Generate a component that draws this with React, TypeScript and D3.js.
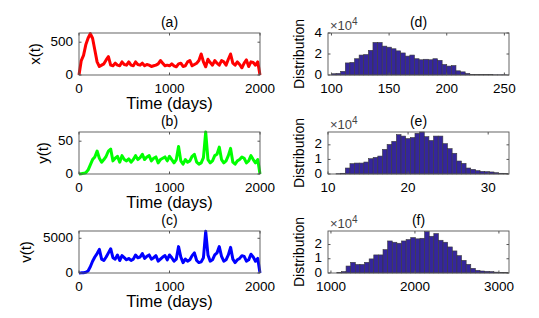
import * as d3 from "d3";

// sampled every 25 days, 0..2000
const days = d3.range(0, 2001, 25);

const xVals = [
  0, 220, 300, 460, 560, 630, 560, 380, 200, 130,
  150, 170, 230, 280, 150, 140, 180, 150, 140, 200,
  160, 150, 200, 150, 140, 200, 160, 150, 180, 140,
  160, 150, 130, 140, 150, 170, 220, 180, 140, 150,
  140, 170, 140, 125, 170, 180, 130, 140, 200, 220,
  140, 160, 180, 220, 320, 200, 125, 240, 190, 150,
  220, 180, 150, 220, 200, 150, 240, 320, 180, 150,
  200, 160, 110, 180, 230, 130, 200, 190, 150, 200,
  0,
];

const yVals = [
  0, 0.5, 1, 2, 6, 14, 22, 26, 35, 24,
  18, 22, 27, 35, 38, 20, 24, 27, 18, 28,
  22, 20, 23, 18, 22, 28, 22, 25, 30, 22,
  26, 28, 20, 24, 26, 17, 22, 24, 26, 20,
  27, 22, 17, 22, 42, 20, 15, 22, 18, 20,
  27, 30, 18, 15, 17, 25, 64, 22, 17, 20,
  28, 30, 41, 22, 17, 20, 28, 39, 18, 15,
  20, 22, 26, 24, 17, 20, 28, 22, 17, 22,
  0,
];

const vVals = [
  0, 20, 50, 100, 300, 900, 1700, 2300, 2800, 3400,
  2000, 1800, 2300, 2900, 3500, 2200, 2000, 2600, 1800, 2500,
  2200, 1900, 2100, 1800, 2000, 2600, 2200, 2300, 2800, 2100,
  2400, 2600, 2000, 2200, 2500, 1700, 2000, 2300, 2500, 1900,
  2600, 2200, 1700, 2000, 3800, 2300, 1500, 2000, 1700, 1900,
  2500, 2900, 1800, 1500, 1600, 2200, 6000, 2600, 1700, 1900,
  2600, 2900, 3800, 2400, 1700, 1900, 2600, 3700, 2000, 1500,
  1900, 2100, 2500, 2400, 1700, 1900, 2700, 2300, 1700, 2100,
  0,
];

// histogram counts, in units of 10^4
const histX = [
  0.12, 0.15, 0.35, 1.15, 1.2, 1.55, 1.9, 1.95, 2.35, 3.1,
  3.1, 2.75, 2.65, 2.5, 2.3, 2.1, 1.8, 1.9, 1.55, 1.45,
  1.5, 1.45, 1.55, 1.4, 1.0, 0.85, 0.9, 0.4, 0.3, 0.15,
  0.05, 0.03, 0.03, 0.03, 0.03, 0.02, 0.02, 0.02,
];
const histY = [
  0.02, 0.05, 0.41, 0.71, 0.75, 0.75, 0.82, 1.05, 1.14, 1.23,
  1.69, 2.03, 2.24, 2.7, 2.6, 2.43, 2.5, 2.79, 2.88, 2.56,
  2.3, 2.6, 2.6, 2.08, 1.74, 1.42, 0.89, 0.73, 0.41, 0.32,
  0.23, 0.18, 0.16, 0.14, 0.09, 0.05, 0.03,
];
const histV = [
  0.03, 0.1, 0.49, 0.75, 0.6, 0.6, 0.75, 0.99, 1.27, 1.27,
  1.64, 2.25, 2.16, 2.09, 2.25, 2.35, 2.49, 2.4, 2.44, 2.91,
  2.58, 2.77, 2.3, 2.16, 1.83, 1.55, 1.22, 0.89, 0.61, 0.33,
  0.19, 0.14, 0.12, 0.1, 0.06, 0.04, 0.03,
];

const timeTicks = [0, 1000, 2000];
const FONT = "Liberation Sans, Arial, Helvetica, sans-serif";
const AX = "#555";

const leftX = [79, 260];
const rightX = [328, 509];
const rows = [[33, 75], [132, 174], [231, 273]];

const Box = ({ x0, x1, y0, y1 }: any) => (
  <rect x={x0} y={y0} width={x1 - x0} height={y1 - y0} fill="none" stroke={AX} strokeWidth={0.9} />
);

const Ticks = ({ x, y, xt, yt }: any) => {
  const [x0, x1] = x.range();
  const [y1, y0] = y.range();
  return (
    <g fontFamily={FONT} fontSize={13.5} fill="#000">
      {xt.map((t: number) => (
        <g key={"x" + t}>
          <line x1={x(t)} x2={x(t)} y1={y1} y2={y1 - 2.5} stroke={AX} />
          <line x1={x(t)} x2={x(t)} y1={y0} y2={y0 + 2.5} stroke={AX} />
          <text x={x(t)} y={y1 + 17.5} textAnchor="middle">{t}</text>
        </g>
      ))}
      {yt.map((t: number) => (
        <g key={"y" + t}>
          <line x1={x0} x2={x0 + 2.5} y1={y(t)} y2={y(t)} stroke={AX} />
          <line x1={x1} x2={x1 - 2.5} y1={y(t)} y2={y(t)} stroke={AX} />
          <text x={x0 - 6} y={y(t) + 3.5} textAnchor="end">{t}</text>
        </g>
      ))}
    </g>
  );
};

const TimePanel = ({ row, values, color, yMax, yt, label, labelX, title }: any) => {
  const [top, bottom] = rows[row];
  const x = d3.scaleLinear().domain([0, 2000]).range(leftX);
  const y = d3.scaleLinear().domain([0, yMax]).range([bottom, top]);
  const line = d3.line<number>().x((_, i) => x(days[i])).y((d) => y(d));
  const cx = (leftX[0] + leftX[1]) / 2;
  return (
    <g>
      <path d={line(values) as string} fill="none" stroke={color} strokeWidth={3} strokeLinejoin="round" />
      <Box x0={leftX[0]} x1={leftX[1]} y0={top} y1={bottom} />
      <Ticks x={x} y={y} xt={timeTicks} yt={yt} />
      <text x={cx} y={top - 6} textAnchor="middle" fontFamily={FONT} fontSize={14}>{title}</text>
      <text x={cx} y={bottom + 34} textAnchor="middle" fontFamily={FONT} fontSize={16.5}>Time (days)</text>
      <text transform={`translate(${labelX},${(top + bottom) / 2}) rotate(-90)`} textAnchor="middle"
        dy="0.35em" fontFamily={FONT} fontSize={15}>{label}</text>
    </g>
  );
};

const HistPanel = ({ row, counts, binStart, binWidth, xDomain, xt, yMax, yt, title }: any) => {
  const [top, bottom] = rows[row];
  const x = d3.scaleLinear().domain(xDomain).range(rightX);
  const y = d3.scaleLinear().domain([0, yMax]).range([bottom, top]);
  const cx = (rightX[0] + rightX[1]) / 2;
  return (
    <g>
      {counts.map((c: number, i: number) => {
        const a = binStart + i * binWidth;
        const xa = x(a), xb = Math.min(x(a + binWidth), rightX[1]);
        return (
          <rect key={i} x={xa} y={y(c)} width={Math.max(0, xb - xa)} height={bottom - y(c)}
            fill="#35269b" stroke="#3a3a3a" strokeWidth={0.6} />
        );
      })}
      <Box x0={rightX[0]} x1={rightX[1]} y0={top} y1={bottom} />
      <Ticks x={x} y={y} xt={xt} yt={yt} />
      <text x={cx} y={top - 6} textAnchor="middle" fontFamily={FONT} fontSize={14}>{title}</text>
      <text x={rightX[0] + 2} y={top - 3} fontFamily={FONT} fontSize={13} fill="#444">
        ×10<tspan dy={-5} fontSize={10}>4</tspan>
      </text>
      <text transform={`translate(299,${(top + bottom) / 2}) rotate(-90)`} textAnchor="middle"
        dy="0.35em" fontFamily={FONT} fontSize={14}>Distribution</text>
    </g>
  );
};

export default function App() {
  return (
    <svg width={539} height={318} style={{ position: "absolute", left: 0, top: 0, background: "#fff" }}>
      <TimePanel row={0} values={xVals} color="#ff0000" yMax={640} yt={[0, 500]} label="x(t)" labelX={35} title="(a)" />
      <TimePanel row={1} values={yVals} color="#00ff00" yMax={64} yt={[0, 50]} label="y(t)" labelX={43} title="(b)" />
      <TimePanel row={2} values={vVals} color="#0000ff" yMax={6050} yt={[0, 5000]} label="v(t)" labelX={26} title="(c)" />
      <HistPanel row={0} counts={histX} binStart={100} binWidth={4} xDomain={[97, 254]}
        xt={[100, 150, 200, 250]} yMax={4} yt={[0, 2, 4]} title="(d)" />
      <HistPanel row={1} counts={histY} binStart={11.0} binWidth={0.58} xDomain={[10, 32.6]}
        xt={[10, 20, 30]} yMax={2.88} yt={[0, 1, 2]} title="(e)" />
      <HistPanel row={2} counts={histV} binStart={1070} binWidth={55} xDomain={[965, 3120]}
        xt={[1000, 2000, 3000]} yMax={2.95} yt={[0, 1, 2]} title="(f)" />
    </svg>
  );
}
